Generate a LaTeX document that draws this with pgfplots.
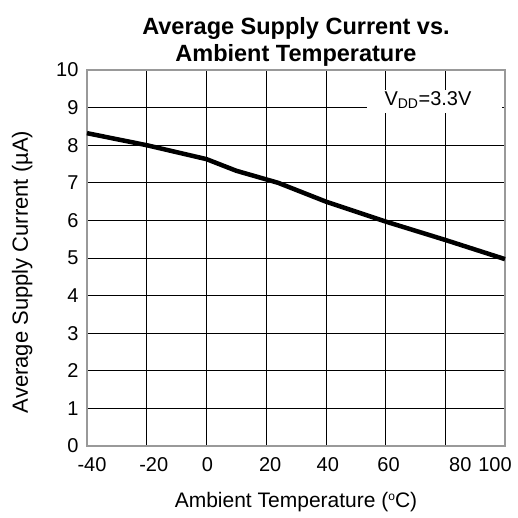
\documentclass[border=0pt]{standalone}
\usepackage{fontspec}
\setmainfont{Liberation Sans}
\usepackage{pgfplots}
\pgfplotsset{compat=1.18}
\usetikzlibrary{calc}
% tick label shifted right by half of #1 from its tick
\newcommand{\tl}[2]{\makebox[0pt][c]{\hspace*{#1}#2}}

\begin{document}
\begin{tikzpicture}[x=1pt,y=1pt]
\begin{axis}[
    scale only axis,
    width=418pt, height=376pt,
    xmin=-40, xmax=100, ymin=0, ymax=10,
    xtick={-40,-20,...,100}, ytick={0,1,...,10},
    xticklabels={\tl{10pt}{-40},\tl{14pt}{-20},\tl{2pt}{0},\tl{8pt}{20},\tl{4pt}{40},\tl{6pt}{60},\tl{30pt}{80},\tl{-20pt}{100}},
    grid=major,
    major grid style={black, line width=0.7pt},
    axis line style={gray!80, line width=1.4pt},
    major tick length=0pt,
    tick label style={font=\fontsize{20}{22}\selectfont},
    /pgf/number format/assume math mode=true,
    xticklabel style={yshift=-8pt},
    yticklabel style={xshift=-5pt},
    xlabel={Ambient Temperature (\raisebox{7pt}{\fontsize{12}{12}\selectfont o}C)},
    ylabel={Average Supply Current (µA)},
    label style={font=\fontsize{21}{24}\selectfont},
    xlabel style={yshift=-14pt},
    ylabel style={yshift=17pt, xshift=-14pt, font=\fontsize{22}{24}\selectfont},
    title={Average Supply Current vs.\\Ambient Temperature},
    title style={font=\bfseries\fontsize{23.5}{27}\selectfont, align=center, yshift=-6pt},
    clip=false,
]
\coordinate (O) at (rel axis cs:0,0);
\addplot[black, line width=4.5pt, line join=round] coordinates {
    (-40,8.32) (-20,8.0) (0,7.63) (10,7.32) (24,7.0) (40,6.5) (60,5.97) (80,5.48) (100,4.97)
};
\fill[white] (axis cs:53.8,8.86) rectangle (axis cs:99,9.47);
\node[inner sep=0pt, font=\fontsize{20}{22}\selectfont] at (axis cs:74.2,9.19) {V\textsubscript{DD}=3.3V};
\end{axis}
\pgfresetboundingbox
\path ($(O)+(-87,-71)$) rectangle ++(518,517);
\end{tikzpicture}
\end{document}
